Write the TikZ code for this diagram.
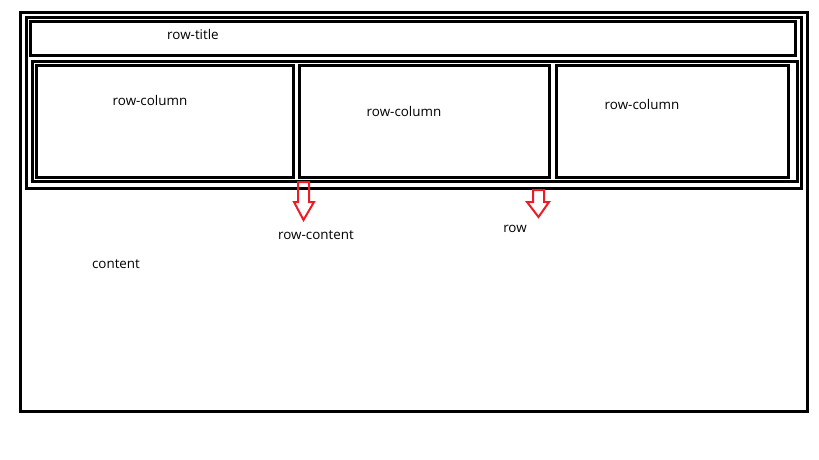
\documentclass[tikz,border=0pt]{standalone}
\usepackage{fontspec}
\setmainfont{Open Sans}
\definecolor{paintred}{RGB}{237,28,36}
\begin{document}
\begin{tikzpicture}[x=1pt,y=-1pt,
    box/.style={draw,line width=3pt,anchor=north west,inner sep=0pt,outer sep=0pt},
    lbl/.style={font=\fontsize{13.4}{15}\selectfont,inner sep=0pt},
    hollow/.style={draw=paintred,line width=2pt,line join=miter}]
  \useasboundingbox (0,0) rectangle (819,460);
  % boxes
  \node[box,minimum width=787pt,minimum height=398pt] (content) at (20,13) {};
  \node[box,minimum width=775pt,minimum height=171pt] (row) at (26,17.5) {};
  \node[box,minimum width=765pt,minimum height=34pt] (title) at (30,22) {};
  \node[box,minimum width=765pt,minimum height=119pt] (rowcontent) at (32,62) {};
  \node[box,minimum width=257pt,minimum height=111pt] (col1) at (36,66) {};
  \node[box,minimum width=250pt,minimum height=111pt] (col2) at (299,66) {};
  \node[box,minimum width=232pt,minimum height=111pt] (col3) at (556,66) {};
  % labels
  \node[lbl] (titletext) at (193,34) {row-title};
  \node[lbl] (col1text) at (150,100) {row-column};
  \node[lbl] (col2text) at (404,111) {row-column};
  \node[lbl] (col3text) at (642,104) {row-column};
  \node[lbl] (rowcontenttext) at (316,235) {row-content};
  \node[lbl] (rowtext) at (515,229) {row};
  \node[lbl] (contenttext) at (116,264) {content};
  % red arrows
  \draw[hollow] (298,182) -- (309,182) -- (309,202) -- (314,202) -- (303.5,220)
    -- (294,202) -- (298,202) -- cycle;
  \draw[hollow] (533,190) -- (544,190) -- (544,202) -- (549,202) -- (538.5,217)
    -- (527,202) -- (533,202) -- cycle;
\end{tikzpicture}
\end{document}
